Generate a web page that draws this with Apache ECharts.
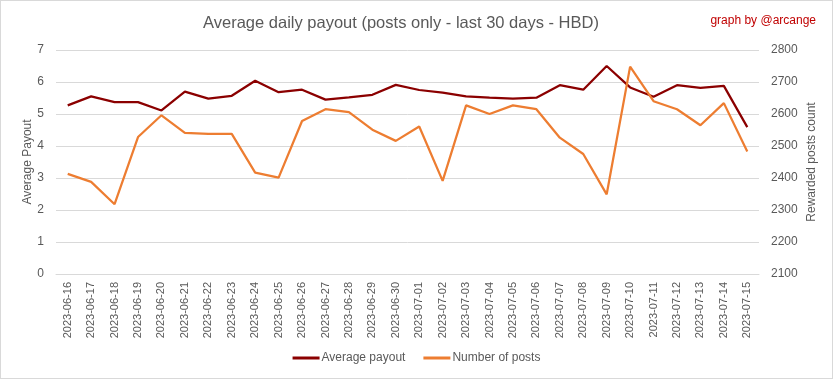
<!DOCTYPE html>
<html><head><meta charset="utf-8">
<script src="https://cdn.jsdelivr.net/npm/echarts@6/dist/echarts.min.js"></script>
<style>html,body{margin:0;padding:0;background:#fff}#c{width:833px;height:379px;box-sizing:border-box;border:1px solid #d9d9d9}</style>
</head><body><div id="c"></div>
<script>
const dates = ["2023-06-16","2023-06-17","2023-06-18","2023-06-19","2023-06-20","2023-06-21","2023-06-22","2023-06-23","2023-06-24","2023-06-25","2023-06-26","2023-06-27","2023-06-28","2023-06-29","2023-06-30","2023-07-01","2023-07-02","2023-07-03","2023-07-04","2023-07-05","2023-07-06","2023-07-07","2023-07-08","2023-07-09","2023-07-10","2023-07-11","2023-07-12","2023-07-13","2023-07-14","2023-07-15"];
const averagePayout = [5.27,5.55,5.37,5.37,5.11,5.70,5.48,5.57,6.04,5.68,5.76,5.45,5.52,5.60,5.91,5.75,5.67,5.55,5.51,5.48,5.51,5.90,5.76,6.50,5.83,5.54,5.90,5.82,5.88,4.59];
const numberOfPosts = [2413,2388,2318,2528,2596,2541,2538,2538,2417,2401,2578,2615,2606,2551,2516,2561,2391,2627,2600,2627,2615,2526,2475,2349,2748,2640,2615,2565,2634,2483];
const leftTicks = {min:0,max:7,interval:1};
const rightTicks = {min:2100,max:2800,interval:100};

const FONT = '"Liberation Sans",sans-serif';
const chart = echarts.init(document.getElementById('c'));
chart.setOption({
  animation:false,
  backgroundColor:'#fff',
  textStyle:{fontFamily:FONT},
  title:[
    {text:'Average daily payout (posts only - last 30 days - HBD)',left:395,top:9,textAlign:'center',
     textStyle:{fontFamily:FONT,fontSize:16.5,fontWeight:'normal',color:'#595959'}},
    {text:'graph by @arcange',right:11,top:9,textStyle:{fontFamily:FONT,fontSize:12,fontWeight:'normal',color:'#c00000'}}
  ],
  legend:{bottom:9,left:'center',itemWidth:27,itemHeight:3,itemGap:18,icon:'rect',
    textStyle:{fontFamily:FONT,fontSize:12,color:'#595959',padding:[0,0,0,-3]},
    data:['Average payout','Number of posts']},
  grid:{left:55,right:73,top:49,bottom:104},
  xAxis:{type:'category',data:dates,boundaryGap:true,
    axisLine:{show:true,lineStyle:{color:'#d9d9d9'}},axisTick:{show:false},
    axisLabel:{rotate:90,fontSize:11,color:'#595959',margin:8,interval:0,fontFamily:FONT}},
  yAxis:[
    {type:'value',min:leftTicks.min,max:leftTicks.max,interval:leftTicks.interval,
     name:'Average Payout',nameLocation:'middle',nameGap:22,nameRotate:90,nameMoveOverlap:false,
     nameTextStyle:{fontFamily:FONT,fontSize:12,color:'#595959'},
     axisLabel:{fontSize:12,color:'#595959',margin:12},
     splitLine:{lineStyle:{color:'#d9d9d9'}},axisLine:{show:false},axisTick:{show:false}},
    {type:'value',min:rightTicks.min,max:rightTicks.max,interval:rightTicks.interval,
     name:'Rewarded posts count',nameLocation:'middle',nameGap:47,nameRotate:90,nameMoveOverlap:false,
     nameTextStyle:{fontFamily:FONT,fontSize:12,color:'#595959'},
     axisLabel:{fontSize:12,color:'#595959',margin:12,formatter:v=>String(v)},
     splitLine:{show:false},axisLine:{show:false},axisTick:{show:false}}
  ],
  series:[
    {name:'Average payout',type:'line',yAxisIndex:0,data:averagePayout,symbol:'none',
     lineStyle:{color:'#8b0000',width:2.25},itemStyle:{color:'#8b0000'}},
    {name:'Number of posts',type:'line',yAxisIndex:1,data:numberOfPosts,symbol:'none',
     lineStyle:{color:'#ed7d31',width:2.25},itemStyle:{color:'#ed7d31'}}
  ]
});
</script></body></html>
